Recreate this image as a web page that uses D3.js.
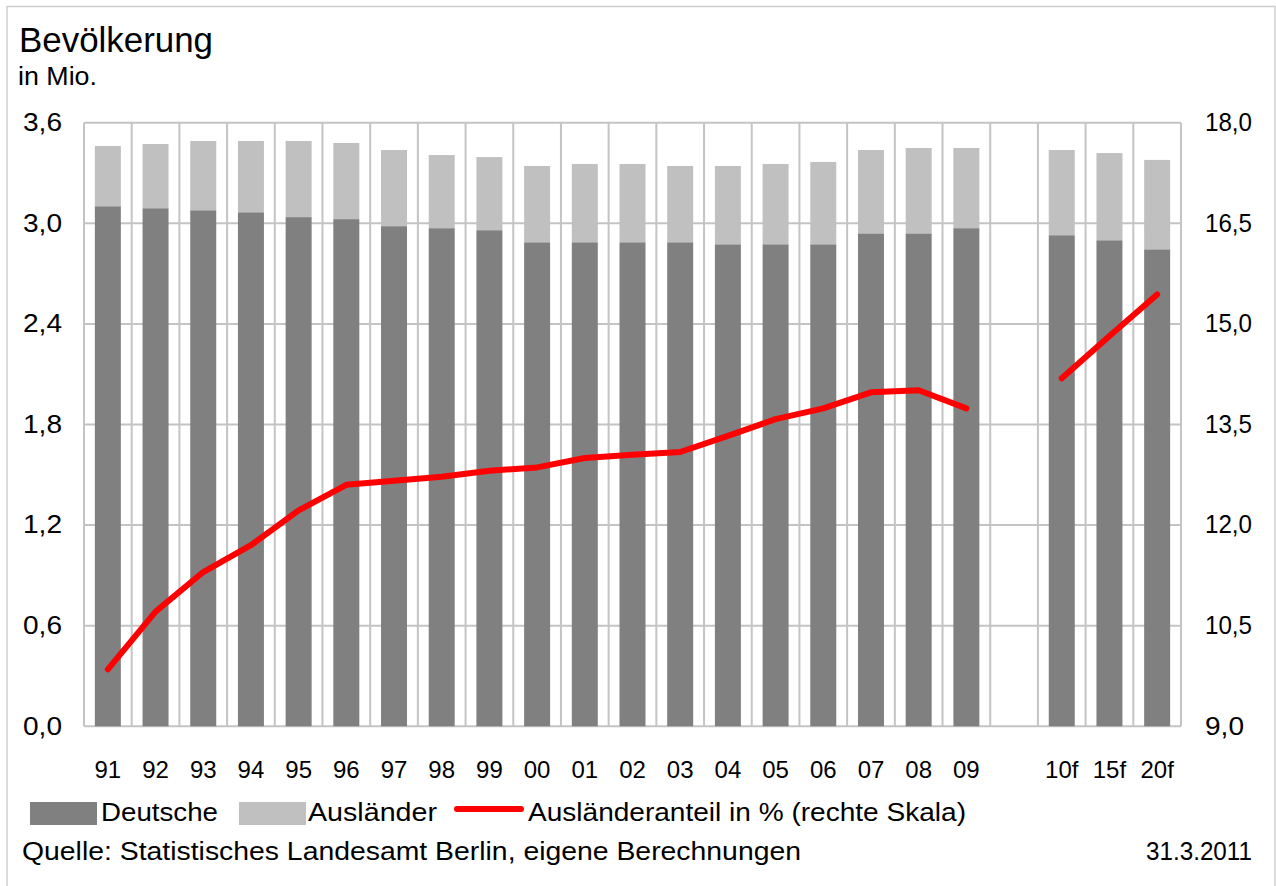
<!DOCTYPE html>
<html>
<head>
<meta charset="utf-8">
<script src="https://cdn.jsdelivr.net/npm/d3@7"></script>
<style>
  html, body { margin: 0; padding: 0; background: #fff; }
  svg { display: block; font-family: "Liberation Sans", Arial, sans-serif; }
</style>
</head>
<body>
<svg id="chart" width="1276" height="886"></svg>
<script>
// Categories (years 1991–2009, an empty slot, then forecasts)
const categories = ["91","92","93","94","95","96","97","98","99","00","01","02","03","04","05","06","07","08","09","","10f","15f","20f"];

// Germans, in millions
const deutsche = [3.102,3.090,3.078,3.066,3.037,3.025,2.983,2.971,2.959,2.887,2.887,2.887,2.887,2.875,2.875,2.875,2.940,2.940,2.971,null,2.929,2.899,2.845];

// Foreigners, in millions
const auslaender = [0.359,0.383,0.413,0.425,0.454,0.454,0.454,0.436,0.436,0.455,0.467,0.467,0.455,0.467,0.479,0.491,0.497,0.509,0.478,null,0.508,0.520,0.533];

// Share of foreigners in % (right scale)
const anteil = [9.85,10.71,11.30,11.70,12.22,12.60,12.66,12.72,12.81,12.86,13.00,13.05,13.09,13.33,13.58,13.74,13.98,14.01,13.74,null,14.19,14.82,15.44];

const leftTicks = [0, 0.6, 1.2, 1.8, 2.4, 3.0, 3.6];
const rightTicks = [9, 10.5, 12, 13.5, 15, 16.5, 18];

const svg = d3.select("#chart");
const plot = { left: 84, right: 1181, top: 122.7, bottom: 726.3 };

const x = d3.scaleBand().domain(d3.range(categories.length))
  .range([plot.left, plot.right]).paddingInner(0.455).paddingOuter(0.2275);
const xb = d3.scaleBand().domain(d3.range(categories.length))
  .range([plot.left, plot.right]).padding(0);
const yL = d3.scaleLinear().domain([0, 3.6]).range([plot.bottom, plot.top]);
const yR = d3.scaleLinear().domain([9, 18]).range([plot.bottom, plot.top]);

const grid = "#c4c4c4";
const fmt = d => d3.format(".1f")(d).replace(".", ",");

// outer frame
svg.append("path").attr("d", "M7,886 V6.5 H1275 V886")
  .attr("fill", "none").attr("stroke", "#cfcfcf").attr("stroke-width", 1.5);

// horizontal grid
svg.append("g").selectAll("line").data(leftTicks).join("line")
  .attr("x1", plot.left).attr("x2", plot.right)
  .attr("y1", d => yL(d)).attr("y2", d => yL(d))
  .attr("stroke", grid).attr("stroke-width", 2);

// vertical grid at category boundaries
const bounds = d3.range(categories.length + 1).map(i => plot.left + i * xb.bandwidth());
svg.append("g").selectAll("line").data(bounds).join("line")
  .attr("x1", d => d).attr("x2", d => d)
  .attr("y1", plot.top).attr("y2", plot.bottom)
  .attr("stroke", grid).attr("stroke-width", 2);

// stacked bars
const rows = categories.map((c, i) => ({ i, d: deutsche[i], a: auslaender[i] })).filter(r => r.d != null);
const bars = svg.append("g");
bars.selectAll("rect.de").data(rows).join("rect").attr("class", "de")
  .attr("x", r => x(r.i)).attr("width", x.bandwidth())
  .attr("y", r => yL(r.d)).attr("height", r => yL(0) - yL(r.d))
  .attr("fill", "#808080");
bars.selectAll("rect.au").data(rows).join("rect").attr("class", "au")
  .attr("x", r => x(r.i)).attr("width", x.bandwidth())
  .attr("y", r => yL(r.d + r.a)).attr("height", r => yL(r.d) - yL(r.d + r.a))
  .attr("fill", "#c0c0c0");

// share line (right scale), broken at the empty slot
const line = d3.line()
  .defined(d => d.v != null)
  .x(d => x(d.i) + x.bandwidth() / 2)
  .y(d => yR(d.v));
svg.append("path").datum(anteil.map((v, i) => ({ i, v })))
  .attr("d", line).attr("fill", "none")
  .attr("stroke", "#ff0000").attr("stroke-width", 6)
  .attr("stroke-linecap", "round").attr("stroke-linejoin", "round");

const FONT = "Liberation Sans, Arial, sans-serif";

// left axis
const axL = svg.append("g").attr("transform", `translate(${plot.left - 22},0)`)
  .call(d3.axisLeft(yL).tickValues(leftTicks).tickFormat(fmt).tickSize(0).tickPadding(0));
axL.select(".domain").remove();
axL.selectAll("text").attr("font-size", 26).attr("fill", "#000").attr("font-family", FONT)
  .attr("dy", "0.3em").attr("textLength", 39).attr("lengthAdjust", "spacingAndGlyphs");

// right axis
const axR = svg.append("g").attr("transform", `translate(${plot.right + 24},0)`)
  .call(d3.axisRight(yR).tickValues(rightTicks).tickFormat(fmt).tickSize(0).tickPadding(0));
axR.select(".domain").remove();
axR.selectAll("text").attr("font-size", 26).attr("fill", "#000").attr("font-family", FONT)
  .attr("dy", "0.3em")
  .each(function(d) { d3.select(this).attr("textLength", fmt(d).length > 3 ? 47 : 39).attr("lengthAdjust", "spacingAndGlyphs"); });

// category axis
const axX = svg.append("g").attr("transform", `translate(0,778)`)
  .call(d3.axisBottom(x).tickFormat(i => categories[i]).tickSize(0).tickPadding(0));
axX.select(".domain").remove();
axX.selectAll("text").attr("font-size", 24).attr("fill", "#000").attr("font-family", FONT).attr("dy", 0);

// title
svg.append("text").attr("x", 19).attr("y", 52).attr("font-size", 35)
  .attr("textLength", 194).attr("lengthAdjust", "spacingAndGlyphs").text("Bevölkerung");
svg.append("text").attr("x", 18).attr("y", 85).attr("font-size", 25)
  .attr("textLength", 79).attr("lengthAdjust", "spacingAndGlyphs").text("in Mio.");

// legend
const lg = svg.append("g").attr("font-size", 25);
lg.append("rect").attr("x", 30).attr("y", 802).attr("width", 67).attr("height", 23).attr("fill", "#808080");
lg.append("text").attr("x", 101).attr("y", 821).attr("textLength", 117).attr("lengthAdjust", "spacingAndGlyphs").text("Deutsche");
lg.append("rect").attr("x", 239).attr("y", 802).attr("width", 67).attr("height", 23).attr("fill", "#c0c0c0");
lg.append("text").attr("x", 308).attr("y", 821).attr("textLength", 129).attr("lengthAdjust", "spacingAndGlyphs").text("Ausländer");
lg.append("line").attr("x1", 457).attr("x2", 521).attr("y1", 809).attr("y2", 809)
  .attr("stroke", "#ff0000").attr("stroke-width", 6).attr("stroke-linecap", "round");
lg.append("text").attr("x", 528).attr("y", 821).attr("textLength", 438).attr("lengthAdjust", "spacingAndGlyphs").text("Ausländeranteil in % (rechte Skala)");

// source and date
svg.append("text").attr("x", 22).attr("y", 860).attr("font-size", 25)
  .attr("textLength", 779).attr("lengthAdjust", "spacingAndGlyphs")
  .text("Quelle: Statistisches Landesamt Berlin, eigene Berechnungen");
svg.append("text").attr("x", 1146).attr("y", 860).attr("font-size", 25)
  .attr("textLength", 106).attr("lengthAdjust", "spacingAndGlyphs")
  .text("31.3.2011");
</script>
</body>
</html>
